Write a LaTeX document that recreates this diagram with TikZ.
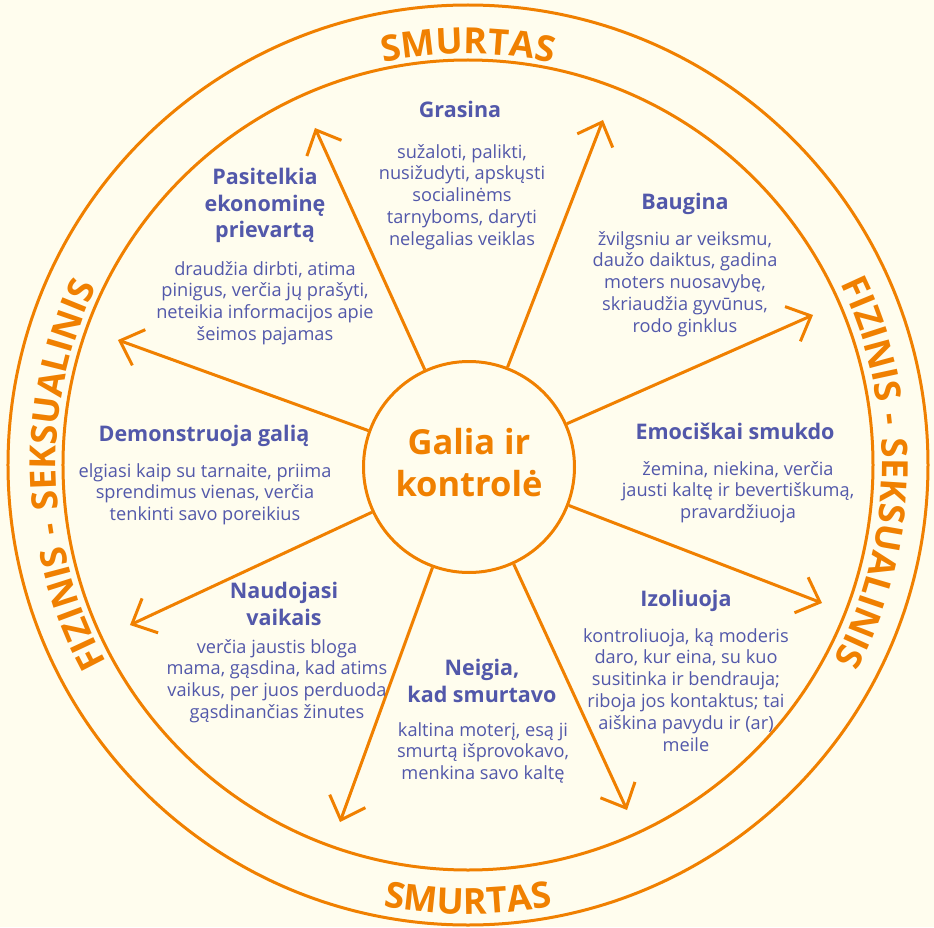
\documentclass[tikz,border=0pt]{standalone}
\usepackage{fontspec}
\setmainfont{Open Sans}
\newfontfamily\ringfont[LetterSpace=8]{Open Sans}
\usetikzlibrary{arrows.meta,decorations.text}

\definecolor{ring}{RGB}{240,128,0}
\definecolor{ink}{RGB}{82,88,170}
\definecolor{paper}{RGB}{255,253,238}

\newcommand{\headfont}{\fontsize{21.5}{26.5}\selectfont\bfseries}
\newcommand{\bodyfont}{\fontsize{18.2}{21.8}\selectfont}

\begin{document}
\begin{tikzpicture}[x=1pt,y=1pt,
    ringline/.style={draw=ring,line width=3pt},
    spoke/.style={ringline,-{Straight Barb[length=20pt,width=38pt]}},
    head/.style={text=ink,align=center,inner sep=0pt,anchor=north,font=\headfont},
    body/.style={text=ink,align=center,inner sep=0pt,anchor=north,font=\bodyfont},
    ringtext/.style={decorate,decoration={text along path,text align=center,
        text color=ring,text={|\ringfont\fontsize{36}{36}\selectfont\bfseries|#1}}}]
  \fill[paper] (-468,-462) rectangle (466,465);
  \useasboundingbox (-468,-462) rectangle (466,465);

  % two rings
  \draw[ringline] (0,0) circle[radius=460pt];
  \draw[ringline] (0,0) circle[radius=405pt];
  \path[ringtext=SMURTAS] (120:411) arc[start angle=120,end angle=60,radius=411pt];
  \path[ringtext=SMURTAS] (240:449) arc[start angle=240,end angle=300,radius=449pt];
  \path[ringtext={FIZINIS - SEKSUALINIS}] (39:414) arc[start angle=39,end angle=-41,radius=414pt];
  \path[ringtext={FIZINIS - SEKSUALINIS}] (221.5:412) arc[start angle=221.5,end angle=141.5,radius=412pt];

  % hub and spokes
  \node[circle,ringline,fill=paper,minimum size=211pt,inner sep=0pt,text depth=10pt,
        text=ring,align=center,font=\fontsize{34.5}{42}\selectfont\bfseries]
        (core) at (1,-2) {Galia ir\\kontrolė};
  \foreach \p [count=\n] in {(-153,337),(135,345),(345,150),(354,-138),
                             (159,-345),(-128,-357),(-338,-160),(-350,125)}
  {
    \path \p coordinate (t\n);
    \draw[spoke] (core) -- (t\n);
  }

  % sectors
  \node[head] (grasina) at (-8,364) {Grasina};
  \node[body] (grasinaTxt) at (-6,321) {sužaloti, palikti,\\nusižudyti, apskųsti\\socialinėms\\tarnyboms, daryti\\nelegalias veiklas};

  \node[head] (ekon) at (-203,297) {Pasitelkia\\ekonominę\\prievartą};
  \node[body] (ekonTxt) at (-203,204) {draudžia dirbti, atima\\pinigus, verčia jų prašyti,\\neteikia informacijos apie\\šeimos pajamas};

  \node[head] (baugina) at (217,272) {Baugina};
  \node[body] (bauginaTxt) at (217,234) {žvilgsniu ar veiksmu,\\daužo daiktus, gadina\\moters nuosavybę,\\skriaudžia gyvūnus,\\rodo ginklus};

  \node[head] (galia) at (-264,40) {Demonstruoja galią};
  \node[body] (galiaTxt) at (-263,2) {elgiasi kaip su tarnaite, priima\\sprendimus vienas, verčia\\tenkinti savo poreikius};

  \node[head] (emoc) at (267,42) {Emociškai smukdo};
  \node[body] (emocTxt) at (270,4) {žemina, niekina, verčia\\jausti kaltę ir bevertiškumą,\\pravardžiuoja};

  \node[head] (vaikai) at (-184,-117) {Naudojasi\\vaikais};
  \node[body] (vaikaiTxt) at (-191,-174) {verčia jaustis bloga\\mama, gąsdina, kad atims\\vaikus, per juos perduoda\\gąsdinančias žinutes};

  \node[head] (neigia) at (14,-194) {Neigia,\\kad smurtavo};
  \node[body] (neigiaTxt) at (15,-257) {kaltina moterį, esą ji\\smurtą išprovokavo,\\menkina savo kaltę};

  \node[head] (izol) at (218,-125) {Izoliuoja};
  \node[body] (izolTxt) at (218,-163) {kontroliuoja, ką moderis\\daro, kur eina, su kuo\\susitinka ir bendrauja;\\riboja jos kontaktus; tai\\aiškina pavydu ir (ar)\\meile};
\end{tikzpicture}
\end{document}
